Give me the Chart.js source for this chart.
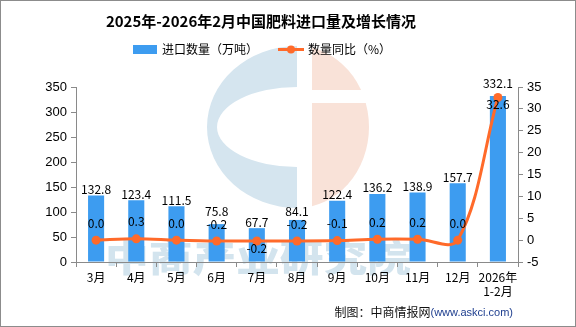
<!DOCTYPE html>
<html><head><meta charset="utf-8">
<script src="https://cdn.jsdelivr.net/npm/chart.js@4"></script>
<style>html,body{margin:0;padding:0;background:#fff;overflow:hidden}canvas{display:block}</style>
</head><body><canvas id="c" width="576" height="327"></canvas>
<script>
const categories = ['3月','4月','5月','6月','7月','8月','9月','10月','11月','12月',['2026年','1-2月']];
const importVolume = [132.8,123.4,111.5,75.8,67.7,84.1,122.4,136.2,138.9,157.7,332.1];
const yoyGrowth = [0.0,0.3,0.0,-0.2,-0.2,-0.2,-0.1,0.2,0.2,0.0,32.6];
const leftAxis = {min:0, max:350, step:50};
const rightAxis = {min:-5, max:35, step:5};
const titleText = '2025年-2026年2月中国肥料进口量及增长情况';
const barLegend = '进口数量（万吨）';
const lineLegend = '数量同比（%）';

const BAR = '#3d9cf0', LINE = '#ff6a2a', AXIS = '#8a8a8a';
const CJK = '"Noto Sans CJK SC", "Noto Sans", sans-serif';

const decor = {
  id:'decor',
  beforeDraw(chart){
    const ctx = chart.ctx;
    ctx.save();
    ctx.fillStyle = '#fff'; ctx.fillRect(0,0,576,327);
    // logo watermark (blue C)
    ctx.fillStyle = '#d5e5ef';
    ctx.beginPath();
    ctx.ellipse(297,127,90,81,0,Math.PI/2,Math.PI*1.5,false);
    ctx.closePath();
    ctx.ellipse(297,127,80,40,0,Math.PI*1.5,Math.PI/2,true);
    ctx.closePath();
    ctx.fill('evenodd');
    // orange part
    ctx.save();
    ctx.beginPath(); ctx.rect(312,30,80,60); ctx.rect(312,103,80,120); ctx.clip();
    ctx.fillStyle = '#f9e2d8';
    ctx.beginPath(); ctx.ellipse(297,127,72,81,0,0,Math.PI*2); ctx.fill();
    ctx.restore();
    // text watermark
    ctx.save();
    ctx.translate(258,258); ctx.scale(1.12,0.95);
    ctx.font = '900 39px ' + CJK;
    ctx.fillStyle = '#d3e4ee';
    ctx.textAlign='center'; ctx.textBaseline='middle';
    ctx.fillText('中商产业研究院',0,0);
    ctx.restore();
    ctx.restore();
  },
  afterDatasetsDraw(chart){
    const ctx = chart.ctx;
    const bars = chart.getDatasetMeta(0).data;
    const pts = chart.getDatasetMeta(1).data;
    ctx.save();
    ctx.font = '12px ' + CJK;
    ctx.fillStyle = '#000';
    ctx.textAlign = 'center'; ctx.textBaseline = 'middle';
    pts.forEach((p,i)=>{
      const b = bars[i];
      const below = b.y > p.y - 14;
      let ly = below ? p.y + 7 : p.y - 17;
      let by = b.y - 6;
      if (!below && Math.abs(by - ly) < 12) by = ly - 13;
      if (below && Math.abs(by - p.y) < 10) by = p.y - 14;
      ctx.fillText(importVolume[i].toFixed(1), b.x, by);
      ctx.fillText(yoyGrowth[i].toFixed(1), p.x, ly);
    });
    ctx.restore();
  },
  afterDraw(chart){
    const ctx = chart.ctx;
    ctx.save();
    // title
    ctx.font = 'bold 15px ' + CJK;
    ctx.fillStyle = '#000'; ctx.textAlign='center'; ctx.textBaseline='middle';
    ctx.fillText(titleText, 261, 21);
    // legend
    ctx.font = '12px ' + CJK;
    ctx.textAlign='left';
    ctx.fillStyle = BAR; ctx.fillRect(133,45,24,9);
    ctx.fillStyle = '#000'; ctx.fillText(barLegend, 162, 49.5);
    ctx.strokeStyle = LINE; ctx.lineWidth = 3;
    ctx.beginPath(); ctx.moveTo(278,49.5); ctx.lineTo(304,49.5); ctx.stroke();
    ctx.fillStyle = LINE; ctx.beginPath(); ctx.arc(291,49.5,4,0,Math.PI*2); ctx.fill();
    ctx.fillStyle = '#000'; ctx.fillText(lineLegend, 308, 49.5);
    // footer
    ctx.textAlign='right';
    ctx.font = '11px "Liberation Sans", Arial, sans-serif';
    ctx.fillStyle = '#1f3f8f';
    const src = '(www.askci.com)';
    ctx.fillText(src, 513, 313);
    const w = ctx.measureText(src).width;
    ctx.font = '12px ' + CJK;
    ctx.fillStyle = '#111';
    ctx.fillText('制图：中商情报网', 513 - w, 312.5);
    // border
    ctx.strokeStyle = '#8c8c8c'; ctx.lineWidth = 1;
    ctx.strokeRect(0.5,0.5,575,326);
    ctx.restore();
  }
};

const tickFont = {family:'"Liberation Sans", Arial, sans-serif', size:13};
new Chart(document.getElementById('c'), {
  data:{
    labels: categories,
    datasets:[
      {type:'bar', label:barLegend, data:importVolume, backgroundColor:BAR, yAxisID:'y',
       categoryPercentage:1, barPercentage:0.4, order:1},
      {type:'line', label:lineLegend, data:yoyGrowth, yAxisID:'y1', borderColor:LINE, backgroundColor:LINE,
       borderWidth:3, pointRadius:4.5, pointBackgroundColor:LINE, pointBorderWidth:0, tension:0.35, order:0}
    ]
  },
  options:{
    responsive:false, devicePixelRatio:1, animation:false,
    layout:{padding:{top:87,left:0,right:0,bottom:0}},
    plugins:{legend:{display:false}, title:{display:false}, tooltip:{enabled:false}},
    scales:{
      x:{offset:true,
         grid:{offset:true, drawOnChartArea:false, drawTicks:true, tickLength:5, color:AXIS},
         border:{color:AXIS},
         ticks:{font:{family:CJK,size:12}, color:'#000', padding:3, maxRotation:0, autoSkip:false},
         afterFit(s){ s.height = 65; }},
      y:{position:'left', min:leftAxis.min, max:leftAxis.max,
         grid:{drawOnChartArea:false, tickLength:5, color:AXIS}, border:{color:AXIS},
         ticks:{stepSize:leftAxis.step, font:tickFont, color:'#000', padding:4},
         afterFit(s){ s.width = 76; }},
      y1:{position:'right', min:rightAxis.min, max:rightAxis.max,
         grid:{drawOnChartArea:false, tickLength:5, color:AXIS}, border:{color:AXIS},
         ticks:{stepSize:rightAxis.step, font:tickFont, color:'#000', padding:4},
         afterFit(s){ s.width = 58; }}
    }
  },
  plugins:[decor]
});
</script></body></html>
